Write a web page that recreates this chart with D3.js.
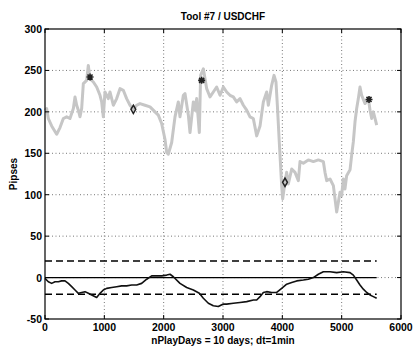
<!DOCTYPE html>
<html>
<head>
<meta charset="utf-8">
<script src="https://cdn.jsdelivr.net/npm/d3@7"></script>
<style>
  body { margin: 0; background: #fff; }
  text { font-family: "Liberation Sans", Arial, sans-serif; font-weight: bold; }
</style>
</head>
<body>
<div id="chart"></div>
<script>
// price path (gray), pips
const priceX = [0, 28, 56, 112, 197, 253, 309, 365, 421, 478, 506, 534, 562, 590, 618, 646, 702, 730, 759, 815, 871, 927, 955, 983, 1011, 1067, 1095, 1152, 1208, 1264, 1320, 1376, 1433, 1489, 1545, 1601, 1685, 1770, 1854, 1910, 1966, 2022, 2051, 2079, 2135, 2191, 2247, 2275, 2332, 2360, 2416, 2444, 2500, 2528, 2556, 2601, 2623, 2669, 2725, 2781, 2837, 2893, 2950, 3006, 3062, 3118, 3174, 3230, 3287, 3343, 3399, 3455, 3511, 3568, 3624, 3680, 3736, 3764, 3820, 3860, 3893, 3916, 3949, 3989, 4006, 4045, 4073, 4101, 4158, 4214, 4270, 4298, 4354, 4438, 4523, 4607, 4691, 4719, 4748, 4804, 4860, 4888, 4916, 4944, 4972, 5000, 5028, 5056, 5084, 5141, 5169, 5197, 5225, 5253, 5281, 5309, 5337, 5394, 5450, 5478, 5506, 5534, 5562, 5590];
const priceY = [202, 204, 192, 183, 173, 181, 192, 194, 192, 204, 218, 208, 202, 194, 204, 234, 238, 256, 240, 236, 230, 220, 212, 194, 224, 216, 224, 208, 216, 228, 226, 216, 208, 203, 208, 210, 208, 206, 200, 196, 186, 167, 151, 149, 163, 194, 212, 194, 220, 222, 196, 175, 212, 202, 216, 175, 244, 252, 228, 218, 224, 230, 220, 230, 224, 220, 218, 212, 216, 208, 202, 194, 192, 171, 183, 212, 224, 208, 232, 244, 236, 208, 163, 111, 95, 115, 127, 113, 131, 127, 117, 140, 138, 142, 140, 142, 140, 127, 117, 119, 111, 95, 79, 91, 103, 99, 119, 107, 123, 130, 148, 164, 188, 204, 216, 230, 220, 210, 216, 202, 192, 200, 192, 184];

// cumulative result (black), pips
const pnlX = [0, 56, 112, 169, 225, 281, 337, 393, 450, 506, 562, 618, 674, 730, 787, 871, 927, 983, 1039, 1124, 1208, 1292, 1376, 1461, 1545, 1629, 1714, 1798, 1882, 1966, 2051, 2107, 2163, 2275, 2388, 2500, 2601, 2669, 2753, 2837, 2921, 3006, 3062, 3174, 3287, 3399, 3512, 3568, 3624, 3680, 3736, 3820, 3905, 3989, 4073, 4158, 4242, 4354, 4438, 4523, 4607, 4691, 4804, 4916, 5028, 5141, 5197, 5253, 5309, 5365, 5422, 5478, 5534, 5590];
const pnlY = [-1, -5, -7, -5, -5, -4, -4, -7, -11, -15, -19, -18, -17, -19, -21, -24, -19, -15, -13, -12, -11, -10, -10, -9, -9, -7, -2, 2, 2, 2, 3, 4, 1, -7, -12, -15, -19, -25, -31, -34, -35, -32, -32, -31, -30, -29, -27, -27, -23, -18, -17, -18, -18, -13, -8, -6, -4, -3, -2, 0, 4, 7, 7, 6, 7, 6, 3, -3, -9, -14, -18, -21, -23, -25];

// trade markers
const starX = [759, 2640, 5461];
const starY = [242, 238, 215];
const diamondX = [1489, 4045];
const diamondY = [203, 115];

// threshold lines
const bandLevels = [20, -20];
const bandEnd = 5590;

const xTicks = [0, 1000, 2000, 3000, 4000, 5000, 6000];
const yTicks = [-50, 0, 50, 100, 150, 200, 250, 300];

const width = 413, height = 346;
const margin = { left: 45, right: 12, top: 29, bottom: 27 };
const iw = width - margin.left - margin.right;
const ih = height - margin.top - margin.bottom;

const svg = d3.select("#chart").append("svg")
    .attr("width", width)
    .attr("height", height);

const x = d3.scaleLinear().domain([0, 6000]).range([margin.left, margin.left + iw]);
const y = d3.scaleLinear().domain([-50, 300]).range([margin.top + ih, margin.top]);

// grid
svg.append("g").selectAll("line.gx")
    .data(xTicks.slice(1, -1))
    .enter().append("line")
    .attr("x1", d => x(d)).attr("x2", d => x(d))
    .attr("y1", margin.top).attr("y2", margin.top + ih)
    .attr("stroke", "#777").attr("stroke-width", 1)
    .attr("stroke-dasharray", "1,2.5");

svg.append("g").selectAll("line.gy")
    .data(yTicks.slice(1, -1))
    .enter().append("line")
    .attr("x1", margin.left).attr("x2", margin.left + iw)
    .attr("y1", d => y(d)).attr("y2", d => y(d))
    .attr("stroke", "#777").attr("stroke-width", 1)
    .attr("stroke-dasharray", "1,2.5");

const line = d3.line().x(d => x(d[0])).y(d => y(d[1]));

// gray price path
svg.append("path")
    .datum(priceX.map((v, i) => [v, priceY[i]]))
    .attr("d", line)
    .attr("fill", "none")
    .attr("stroke", "#c6c6c6")
    .attr("stroke-width", 3)
    .attr("stroke-linejoin", "round");

// zero line and dashed band
svg.append("path")
    .datum([[0, 0], [bandEnd, 0]])
    .attr("d", line)
    .attr("stroke", "#000").attr("stroke-width", 1.2);

svg.selectAll("path.band")
    .data(bandLevels)
    .enter().append("path")
    .attr("d", d => line([[0, d], [bandEnd, d]]))
    .attr("stroke", "#000").attr("stroke-width", 1.5)
    .attr("stroke-dasharray", "7,4");

// black result path
svg.append("path")
    .datum(pnlX.map((v, i) => [v, pnlY[i]]))
    .attr("d", line)
    .attr("fill", "none")
    .attr("stroke", "#111")
    .attr("stroke-width", 1.6)
    .attr("stroke-linejoin", "round");

// asterisk markers
const r = 3.5, rd = r * 0.72;
const asterisk = `M${-r},0L${r},0M0,${-r}L0,${r}M${-rd},${-rd}L${rd},${rd}M${-rd},${rd}L${rd},${-rd}`;
svg.selectAll("path.star")
    .data(starX.map((v, i) => [v, starY[i]]))
    .enter().append("path")
    .attr("d", asterisk)
    .attr("transform", d => `translate(${x(d[0])},${y(d[1])})`)
    .attr("fill", "none")
    .attr("stroke", "#222").attr("stroke-width", 1.6);

svg.selectAll("path.diamond")
    .data(diamondX.map((v, i) => [v, diamondY[i]]))
    .enter().append("path")
    .attr("d", d3.symbol().type(d3.symbolDiamond).size(20))
    .attr("transform", d => `translate(${x(d[0])},${y(d[1])})`)
    .attr("fill", "none")
    .attr("stroke", "#222").attr("stroke-width", 1.5);

// axes box
svg.append("rect")
    .attr("x", margin.left).attr("y", margin.top)
    .attr("width", iw).attr("height", ih)
    .attr("fill", "none").attr("stroke", "#000").attr("stroke-width", 1.2);

// inner ticks (both sides)
const tl = 4;
xTicks.forEach(t => {
    svg.append("line").attr("x1", x(t)).attr("x2", x(t))
        .attr("y1", margin.top + ih).attr("y2", margin.top + ih - tl).attr("stroke", "#000");
    svg.append("line").attr("x1", x(t)).attr("x2", x(t))
        .attr("y1", margin.top).attr("y2", margin.top + tl).attr("stroke", "#000");
});
yTicks.forEach(t => {
    svg.append("line").attr("x1", margin.left).attr("x2", margin.left + tl)
        .attr("y1", y(t)).attr("y2", y(t)).attr("stroke", "#000");
    svg.append("line").attr("x1", margin.left + iw).attr("x2", margin.left + iw - tl)
        .attr("y1", y(t)).attr("y2", y(t)).attr("stroke", "#000");
});

// tick labels
svg.selectAll("text.xt")
    .data(xTicks)
    .enter().append("text")
    .attr("x", d => x(d)).attr("y", margin.top + ih + 12)
    .attr("text-anchor", "middle")
    .attr("font-size", 10.5)
    .text(d => d);

svg.selectAll("text.yt")
    .data(yTicks)
    .enter().append("text")
    .attr("x", margin.left - 3).attr("y", d => y(d) + 4)
    .attr("text-anchor", "end")
    .attr("font-size", 10.5)
    .text(d => d);

// labels
svg.append("text")
    .attr("x", x(3000)).attr("y", 20)
    .attr("text-anchor", "middle")
    .attr("font-size", 10)
    .text("Tool #7 / USDCHF");

svg.append("text")
    .attr("x", x(3000)).attr("y", 344)
    .attr("text-anchor", "middle")
    .attr("font-size", 10)
    .text("nPlayDays = 10 days;  dt=1min");

svg.append("text")
    .attr("transform", `translate(17,${margin.top + ih / 2}) rotate(-90)`)
    .attr("text-anchor", "middle")
    .attr("font-size", 10)
    .text("Pipses");
</script>
</body>
</html>
